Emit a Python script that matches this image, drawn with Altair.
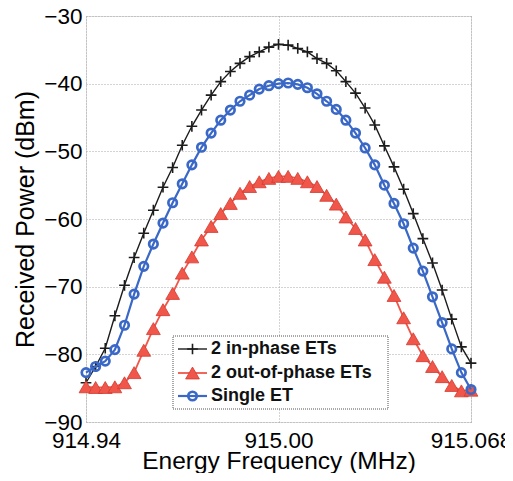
import altair as alt
import pandas as pd

# ---------------- data ----------------
freq_mhz = [914.940, 914.943, 914.946, 914.949, 914.952, 914.955, 914.958, 914.961,
            914.964, 914.967, 914.970, 914.973, 914.976, 914.979, 914.982, 914.985,
            914.988, 914.991, 914.994, 914.997, 915.000, 915.003, 915.006, 915.009,
            915.012, 915.015, 915.018, 915.021, 915.024, 915.027, 915.030, 915.033,
            915.036, 915.039, 915.042, 915.045, 915.048, 915.051, 915.054, 915.057,
            915.060]

in_phase = [-84.2, -81.8, -79.1, -74.3, -69.8, -65.7, -62.1, -58.7, -55.3, -52.4,
            -49.1, -46.3, -43.9, -41.7, -39.7, -38.2, -37.0, -36.0, -35.3, -34.6,
            -34.2, -34.3, -34.8, -35.3, -36.3, -37.0, -38.1, -39.7, -41.4, -43.6,
            -46.1, -49.2, -52.3, -55.6, -59.2, -62.9, -66.5, -70.5, -74.8, -78.9,
            -81.3]

out_of_phase = [-84.8, -84.9, -84.9, -84.8, -84.2, -82.7, -79.4, -76.2, -73.4, -71.0,
                -68.0, -65.6, -63.1, -61.1, -59.2, -57.7, -56.2, -55.2, -54.5, -54.0,
                -53.7, -53.7, -54.0, -54.5, -55.2, -56.5, -57.8, -59.7, -61.4, -63.1,
                -66.0, -68.6, -71.3, -74.6, -77.7, -80.2, -81.8, -83.3, -84.6, -85.4,
                -85.3]

single_et = [-82.7, -81.8, -81.0, -79.3, -75.7, -71.1, -67.0, -63.7, -60.6, -57.6,
             -54.8, -52.0, -49.4, -47.3, -45.4, -43.9, -42.6, -41.7, -40.8, -40.3,
             -40.0, -39.9, -40.1, -40.6, -41.5, -42.6, -43.8, -45.4, -47.3, -49.5,
             -52.0, -55.0, -57.7, -60.7, -64.3, -67.7, -71.5, -75.3, -79.2, -82.7,
             -85.2]

series_names = ["2 in-phase ETs", "2 out-of-phase ETs", "Single ET"]
y_ticks = [-90, -80, -70, -60, -50, -40, -30]
x_ticks = [914.94, 915.00, 915.06]
x_tick_labels = ["914.94", "915.00", "915.068"]

# ---------------- styling ----------------
FONT = "Liberation Sans"
W, H = 385, 406
BLACK = "#1c1c1c"
RED = "#f0564a"
RED_EDGE = "#d23a30"
BLUE = "#3a68c6"
PLUS = "M-1,0L1,0M0,-1L0,1"

label_expr = (
    f"datum.value < 914.97 ? '{x_tick_labels[0]}' : "
    f"(datum.value < 915.03 ? '{x_tick_labels[1]}' : '{x_tick_labels[2]}')"
)

x_enc = alt.X(
    "f:Q",
    scale=alt.Scale(domain=[x_ticks[0], x_ticks[-1]], nice=False, zero=False),
    axis=alt.Axis(
        values=x_ticks, labelExpr=label_expr, ticks=False, labelPadding=7,
        labelFontSize=22.5, labelFont=FONT, labelColor="black",
        labelBaseline="top", labelOverlap=False, labelFlush=False,
        grid=True, gridColor="#a8a8a8", gridDash=[1, 2], gridWidth=1,
        domain=False,
        title="Energy Frequency (MHz)", titleFontSize=24.5, titleFont=FONT,
        titleFontWeight="normal", titleColor="black", titleBaseline="alphabetic",
        titleY=46, titleX=W / 2, titleAlign="center",
    ),
)
y_enc = alt.Y(
    "p:Q",
    scale=alt.Scale(domain=[y_ticks[0], y_ticks[-1]], nice=False, zero=False),
    axis=alt.Axis(
        values=y_ticks, ticks=False, labelPadding=4, labelFontSize=22.5,
        labelFont=FONT, labelColor="black", labelOverlap=False, labelFlush=False,
        grid=True, gridColor="#a8a8a8", gridDash=[1, 2], gridWidth=1,
        domain=False,
        title="Received Power (dBm)", titleFontSize=25, titleFont=FONT,
        titleFontWeight="normal", titleColor="black", titleBaseline="alphabetic",
        titleAngle=270, titleX=-53, titleY=H / 2, titleAlign="center",
    ),
)


def frame(values):
    return pd.DataFrame({"f": freq_mhz, "p": values})


def series_layers(values, color, line_w, point_kwargs):
    base = alt.Chart(frame(values))
    line = base.mark_line(color=color, strokeWidth=line_w).encode(x=x_enc, y=y_enc)
    pts = base.mark_point(**point_kwargs).encode(x=x_enc, y=y_enc)
    return [line, pts]


plus_kw = dict(shape=PLUS, filled=False, stroke=BLACK, strokeWidth=1.6, size=115, opacity=1)
tri_kw = dict(shape="triangle-up", filled=True, fill=RED, stroke=RED_EDGE, strokeWidth=0.8,
              size=190, opacity=1)
circ_kw = dict(shape="circle", filled=False, stroke=BLUE, strokeWidth=2.7, size=72, opacity=1)

layers = []
layers += series_layers(in_phase, BLACK, 1.4, plus_kw)
layers += series_layers(out_of_phase, RED, 1.8, tri_kw)
layers += series_layers(single_et, BLUE, 2.2, circ_kw)

# ---------------- legend box (manual, MATLAB style) ----------------
one = pd.DataFrame({"a": [0]})
box = alt.Chart(one).mark_rect(fill="white", stroke="#555555", strokeWidth=1,
                               strokeDash=[1, 1]).encode(
    x=alt.value(87), x2=alt.value(302), y=alt.value(320), y2=alt.value(393))
layers.append(box)

row_y = [333, 357, 380]
entry_style = [
    (BLACK, 1.4, plus_kw),
    (RED, 1.8, tri_kw),
    (BLUE, 2.2, circ_kw),
]
for name, yy, (col, lw, pk) in zip(series_names, row_y, entry_style):
    layers.append(alt.Chart(one).mark_rule(color=col, strokeWidth=lw).encode(
        x=alt.value(92), x2=alt.value(121), y=alt.value(yy)))
    layers.append(alt.Chart(one).mark_point(**pk).encode(
        x=alt.value(106.5), y=alt.value(yy)))
    layers.append(alt.Chart(one).mark_text(
        align="left", baseline="middle", font=FONT, fontSize=18,
        fontWeight="bold", color="#111111").encode(
        x=alt.value(125), y=alt.value(yy), text=alt.value(name)))

chart = alt.layer(*layers).properties(
    width=W, height=H,
    autosize=alt.AutoSizeParams(type="none"),
    padding={"left": 78, "top": 8, "right": 34, "bottom": 51},
).configure_view(stroke="#333333", strokeWidth=1.2).configure(background="white")

chart.save("out.html", embed_options={"renderer": "svg", "actions": False})
